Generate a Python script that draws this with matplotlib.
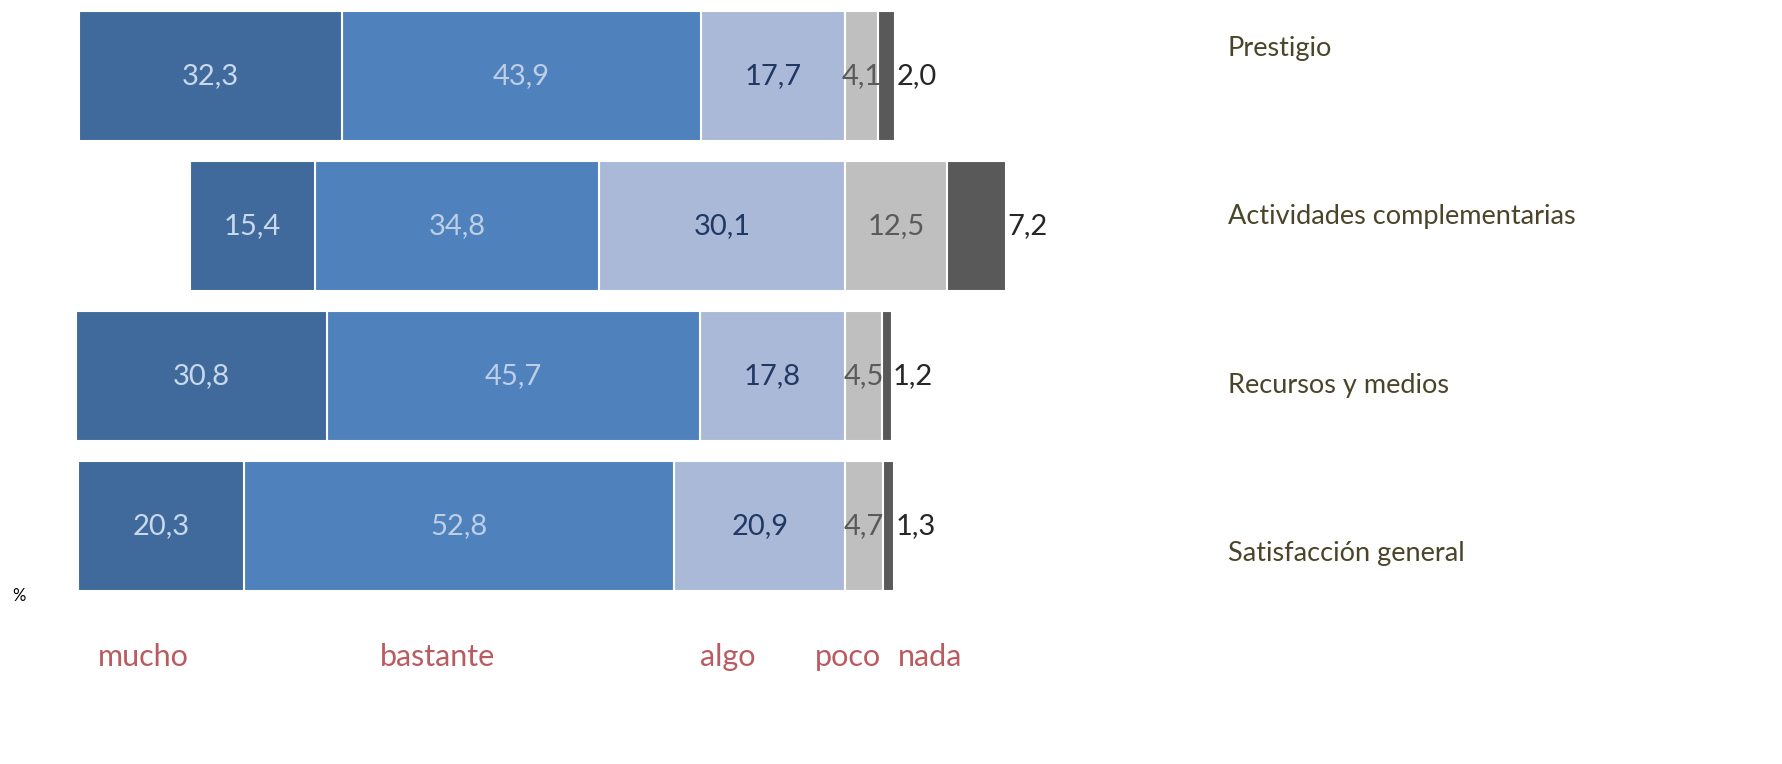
import matplotlib.pyplot as plt

plt.rcParams['font.family'] = ['Lato', 'DejaVu Sans']

categories = ["Prestigio", "Actividades complementarias", "Recursos y medios", "Satisfacción general"]
levels = ["mucho", "bastante", "algo", "poco", "nada"]

mucho = [32.3, 15.4, 30.8, 20.3]
bastante = [43.9, 34.8, 45.7, 52.8]
algo = [17.7, 30.1, 17.8, 20.9]
poco = [4.1, 12.5, 4.5, 4.7]
nada = [2.0, 7.2, 1.2, 1.3]

colors = {"mucho": "#3F6A9B", "bastante": "#4F81BD", "algo": "#AAB9D7",
          "poco": "#BFBFBF", "nada": "#595959"}
text_colors = {"mucho": "#C9D8EC", "bastante": "#BCCFE6", "algo": "#203864",
               "poco": "#5A5A5A", "nada": "#262626"}


def fmt(v):
    return f"{v:.1f}".replace(".", ",")


W, H = 1783, 764
fig = plt.figure(figsize=(W / 100, H / 100), dpi=100)

# axes in pixels: left 60, right 1218, top 0, bottom 610
ax = fig.add_axes([60 / W, 1 - 610 / H, (1218 - 60) / W, 610 / H])
px_per_unit = 8.16
ax.set_xlim((60 - 845) / px_per_unit, (1218 - 845) / px_per_unit)
ax.set_ylim(3 + (610 - 526) / 150, -76 / 150)

y = list(range(len(categories)))
h = 130 / 150
edge = dict(edgecolor="white", linewidth=1.5)

# left side: algo, bastante, mucho stacked to the left of zero
left_algo = [-a for a in algo]
left_bast = [-(a + b) for a, b in zip(algo, bastante)]
left_much = [-(a + b + m) for a, b, m in zip(algo, bastante, mucho)]

bars = {}
bars["algo"] = ax.barh(y, algo, left=left_algo, height=h, color=colors["algo"], **edge)
bars["bastante"] = ax.barh(y, bastante, left=left_bast, height=h, color=colors["bastante"], **edge)
bars["mucho"] = ax.barh(y, mucho, left=left_much, height=h, color=colors["mucho"], **edge)
bars["poco"] = ax.barh(y, poco, left=0, height=h, color=colors["poco"], **edge)
bars["nada"] = ax.barh(y, nada, left=poco, height=h, color=colors["nada"], **edge)

series = {"mucho": mucho, "bastante": bastante, "algo": algo, "poco": poco, "nada": nada}
for key in ["mucho", "bastante", "algo", "poco"]:
    ax.bar_label(bars[key], labels=[fmt(v) for v in series[key]], label_type="center",
                 color=text_colors[key], fontsize=21)
ax.bar_label(bars["nada"], labels=[fmt(v) for v in nada], label_type="edge", padding=1,
             color=text_colors["nada"], fontsize=21)

ax.axis("off")

# category names on a secondary axis
ax2 = ax.twinx()
ax2.set_ylim(3 + (610 - 551) / 168.3, -46 / 168.3)
ax2.set_yticks(y)
ax2.set_yticklabels(categories, fontsize=19.5, color="#4A452A")
ax2.tick_params(axis="y", length=0, pad=7)
for s in ax2.spines.values():
    s.set_visible(False)
ax2.set_xticks([])

# level names along the bottom
level_x = [98, 380, 700, 815, 898]
for name, xp in zip(levels, level_x):
    fig.text(xp / W, 1 - 657 / H, name, ha="left", va="center", fontsize=22, color="#B95C62")

fig.text(12 / W, 1 - 596 / H, "%", ha="left", va="center", fontsize=12, color="black")

fig.savefig("out.png", dpi=100)
